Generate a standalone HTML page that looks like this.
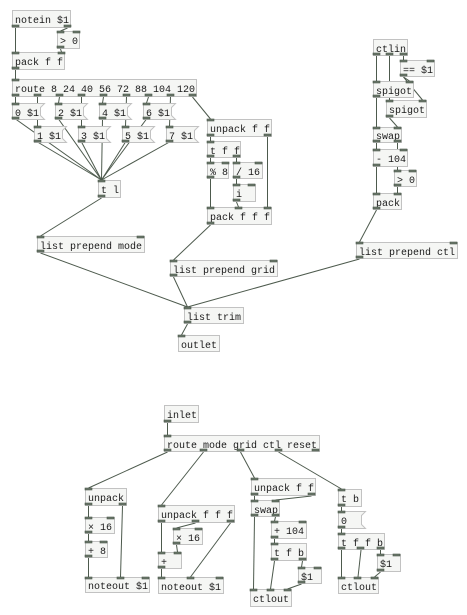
<!DOCTYPE html>
<html><head><meta charset="utf-8"><style>
html,body{margin:0;padding:0;background:#fff;width:467px;height:615px;overflow:hidden}
svg{display:block}
.b{fill:#f5f6f4;stroke:#c2c2c2;stroke-width:1}
.p{fill:#6b786b;stroke:#4a584a;stroke-width:.6}
.c{stroke:#4d5a4d;stroke-width:1;fill:none}
text{font-family:"Liberation Mono","DejaVu Sans Mono",monospace;font-size:10px;fill:#1a1a1a}
</style></head><body>
<svg width="467" height="615" viewBox="0 0 467 615" xmlns="http://www.w3.org/2000/svg">
<!-- cords -->
<g class="c">
<line x1="15.5" y1="28" x2="15.5" y2="52"/>
<line x1="67.5" y1="28" x2="60.5" y2="31"/>
<line x1="60.5" y1="49" x2="61.5" y2="52"/>
<line x1="15.5" y1="70" x2="15.5" y2="79"/>
<line x1="15.5" y1="97" x2="15.5" y2="103"/>
<line x1="37.5" y1="97" x2="37.5" y2="126"/>
<line x1="59.5" y1="97" x2="58.5" y2="103"/>
<line x1="81.5" y1="97" x2="81.5" y2="126"/>
<line x1="103.5" y1="97" x2="102.5" y2="103"/>
<line x1="126.5" y1="97" x2="125.5" y2="126"/>
<line x1="148.5" y1="97" x2="146.5" y2="103"/>
<line x1="170.5" y1="97" x2="169.5" y2="126"/>
<line x1="192.5" y1="97" x2="210.5" y2="119"/>
<line x1="15.5" y1="119" x2="101.5" y2="180"/>
<line x1="58.5" y1="119" x2="101.5" y2="180"/>
<line x1="102.5" y1="119" x2="101.5" y2="180"/>
<line x1="146.5" y1="119" x2="101.5" y2="180"/>
<line x1="37.5" y1="142" x2="101.5" y2="180"/>
<line x1="81.5" y1="142" x2="101.5" y2="180"/>
<line x1="125.5" y1="142" x2="101.5" y2="180"/>
<line x1="169.5" y1="142" x2="101.5" y2="180"/>
<line x1="101.5" y1="198" x2="40.5" y2="236"/>
<line x1="210.5" y1="137" x2="210.5" y2="141"/>
<line x1="267.5" y1="137" x2="267.5" y2="207"/>
<line x1="210.5" y1="158" x2="210.5" y2="162"/>
<line x1="236.5" y1="158" x2="236.5" y2="162"/>
<line x1="210.5" y1="179" x2="210.5" y2="207"/>
<line x1="236.5" y1="179" x2="236.5" y2="184"/>
<line x1="236.5" y1="202" x2="238.5" y2="207"/>
<line x1="210.5" y1="225" x2="173.5" y2="260"/>
<line x1="376.5" y1="56" x2="376.5" y2="81"/>
<line x1="389.5" y1="56" x2="389.5" y2="100"/>
<line x1="403.5" y1="56" x2="403.5" y2="60"/>
<line x1="403.5" y1="77" x2="409.5" y2="81"/>
<line x1="403.5" y1="77" x2="422.5" y2="100"/>
<line x1="376.5" y1="98" x2="376.5" y2="127"/>
<line x1="389.5" y1="118" x2="397.5" y2="127"/>
<line x1="376.5" y1="143" x2="376.5" y2="149"/>
<line x1="397.5" y1="143" x2="397.5" y2="170"/>
<line x1="376.5" y1="167" x2="376.5" y2="193"/>
<line x1="397.5" y1="187" x2="397.5" y2="193"/>
<line x1="376.5" y1="210" x2="359.5" y2="242"/>
<line x1="40.5" y1="253" x2="187.5" y2="307"/>
<line x1="173.5" y1="277" x2="187.5" y2="307"/>
<line x1="359.5" y1="259" x2="187.5" y2="307"/>
<line x1="187.5" y1="324" x2="181.5" y2="335"/>
<!-- bottom -->
<line x1="167.5" y1="423" x2="167.5" y2="435"/>
<line x1="167.5" y1="452" x2="88.5" y2="488"/>
<line x1="203.5" y1="452" x2="161.5" y2="505"/>
<line x1="240.5" y1="452" x2="254.5" y2="478"/>
<line x1="278.5" y1="452" x2="341.5" y2="489"/>
<line x1="88.5" y1="506" x2="88.5" y2="517"/>
<line x1="122.5" y1="506" x2="120.5" y2="577"/>
<line x1="88.5" y1="534" x2="88.5" y2="541"/>
<line x1="88.5" y1="558" x2="88.5" y2="577"/>
<line x1="161.5" y1="523" x2="161.5" y2="552"/>
<line x1="195.5" y1="523" x2="176.5" y2="528"/>
<line x1="230.5" y1="523" x2="190.5" y2="577"/>
<line x1="176.5" y1="545" x2="177.5" y2="552"/>
<line x1="161.5" y1="569" x2="161.5" y2="577"/>
<line x1="254.5" y1="496" x2="254.5" y2="500"/>
<line x1="311.5" y1="496" x2="275.5" y2="500"/>
<line x1="254.5" y1="517" x2="253.5" y2="589"/>
<line x1="275.5" y1="517" x2="274.5" y2="521"/>
<line x1="274.5" y1="539" x2="274.5" y2="543"/>
<line x1="274.5" y1="561" x2="270.5" y2="589"/>
<line x1="302.5" y1="561" x2="301.5" y2="567"/>
<line x1="301.5" y1="584" x2="287.5" y2="589"/>
<line x1="341.5" y1="507" x2="341.5" y2="511"/>
<line x1="341.5" y1="528" x2="341.5" y2="533"/>
<line x1="341.5" y1="550" x2="341.5" y2="577"/>
<line x1="361" y1="550" x2="358" y2="577"/>
<line x1="380.5" y1="550" x2="380.5" y2="554"/>
<line x1="380.5" y1="572" x2="374.5" y2="577"/>
</g>
<!-- object boxes -->
<g>
<rect class="b" x="12.5" y="10.5" width="58" height="17"/><text x="15" y="23">notein $1</text>
<rect class="b" x="57.5" y="31.5" width="22" height="17"/><text x="60" y="44">&gt; 0</text>
<rect class="b" x="12.5" y="52.5" width="52" height="17"/><text x="15" y="65">pack f f</text>
<rect class="b" x="12.5" y="79.5" width="184" height="17"/><text x="15" y="92">route 8 24 40 56 72 88 104 120</text>
<rect class="b" x="98.5" y="180.5" width="22" height="17"/><text x="101" y="193">t l</text>
<rect class="b" x="207.5" y="119.5" width="64" height="17"/><text x="210" y="132">unpack f f</text>
<rect class="b" x="207.5" y="141.5" width="33" height="16"/><text x="210" y="154">t f f</text>
<rect class="b" x="207.5" y="162.5" width="21" height="16"/><text x="210" y="175">% 8</text>
<rect class="b" x="233.5" y="162.5" width="29" height="16"/><text x="236" y="175">/ 16</text>
<rect class="b" x="233.5" y="184.5" width="22" height="17"/><text x="236" y="197">i</text>
<rect class="b" x="207.5" y="207.5" width="64" height="17"/><text x="210" y="220">pack f f f</text>
<rect class="b" x="37.5" y="236.5" width="107" height="16"/><text x="40" y="249">list prepend mode</text>
<rect class="b" x="170.5" y="260.5" width="107" height="16"/><text x="173" y="273">list prepend grid</text>
<rect class="b" x="356.5" y="242.5" width="101" height="16"/><text x="359" y="255">list prepend ctl</text>
<rect class="b" x="184.5" y="307.5" width="59" height="16"/><text x="187" y="320">list trim</text>
<rect class="b" x="178.5" y="335.5" width="41" height="16"/><text x="181" y="348">outlet</text>
<rect class="b" x="373.5" y="39.5" width="34" height="16"/><text x="376" y="52">ctlin</text>
<rect class="b" x="400.5" y="60.5" width="34" height="16"/><text x="403" y="73">== $1</text>
<rect class="b" x="373.5" y="81.5" width="40" height="16"/><text x="376" y="94">spigot</text>
<rect class="b" x="386.5" y="100.5" width="40" height="17"/><text x="389" y="113">spigot</text>
<rect class="b" x="373.5" y="127.5" width="28" height="15"/><text x="376" y="139">swap</text>
<rect class="b" x="373.5" y="149.5" width="34" height="17"/><text x="376" y="162">- 104</text>
<rect class="b" x="394.5" y="170.5" width="22" height="16"/><text x="397" y="183">&gt; 0</text>
<rect class="b" x="373.5" y="193.5" width="28" height="16"/><text x="376" y="206">pack</text>
<rect class="b" x="164.5" y="405.5" width="34" height="17"/><text x="167" y="418">inlet</text>
<rect class="b" x="164.5" y="435.5" width="155" height="16"/><text x="167" y="448">route mode grid ctl reset</text>
<rect class="b" x="85.5" y="488.5" width="41" height="17"/><text x="88" y="501">unpack</text>
<rect class="b" x="85.5" y="517.5" width="29" height="16"/><text x="88" y="530">× 16</text>
<rect class="b" x="85.5" y="541.5" width="22" height="16"/><text x="88" y="554">+ 8</text>
<rect class="b" x="85.5" y="577.5" width="64" height="15"/><text x="88" y="589">noteout $1</text>
<rect class="b" x="158.5" y="505.5" width="76" height="17"/><text x="161" y="518">unpack f f f</text>
<rect class="b" x="173.5" y="528.5" width="29" height="16"/><text x="176" y="541">× 16</text>
<rect class="b" x="158.5" y="552.5" width="23" height="16"/><text x="161" y="565">+</text>
<rect class="b" x="158.5" y="577.5" width="65" height="16"/><text x="161" y="590">noteout $1</text>
<rect class="b" x="251.5" y="478.5" width="64" height="17"/><text x="254" y="491">unpack f f</text>
<rect class="b" x="251.5" y="500.5" width="28" height="16"/><text x="254" y="513">swap</text>
<rect class="b" x="271.5" y="521.5" width="35" height="17"/><text x="274" y="534">+ 104</text>
<rect class="b" x="271.5" y="543.5" width="35" height="17"/><text x="274" y="556">t f b</text>
<rect class="b" x="298.5" y="567.5" width="23" height="16"/><text x="301" y="580">$1</text>
<rect class="b" x="250.5" y="589.5" width="41" height="17"/><text x="253" y="602">ctlout</text>
<rect class="b" x="338.5" y="489.5" width="23" height="17"/><text x="341" y="502">t b</text>
<rect class="b" x="338.5" y="533.5" width="46" height="16"/><text x="341" y="546">t f f b</text>
<rect class="b" x="377.5" y="554.5" width="23" height="17"/><text x="380" y="567">$1</text>
<rect class="b" x="338.5" y="577.5" width="40" height="16"/><text x="341" y="590">ctlout</text>
</g>
<!-- message boxes -->
<g>
<path class="b" d="M12.5 103.5H44.5L40.5 107.5V115.5L44.5 119.5H12.5Z"/><text x="15" y="116">0 $1</text>
<path class="b" d="M55.5 103.5H87.5L83.5 107.5V115.5L87.5 119.5H55.5Z"/><text x="58" y="116">2 $1</text>
<path class="b" d="M99.5 103.5H131.5L127.5 107.5V115.5L131.5 119.5H99.5Z"/><text x="102" y="116">4 $1</text>
<path class="b" d="M143.5 103.5H175.5L171.5 107.5V115.5L175.5 119.5H143.5Z"/><text x="146" y="116">6 $1</text>
<path class="b" d="M34.5 126.5H66.5L62.5 130.5V138.5L66.5 142.5H34.5Z"/><text x="37" y="139">1 $1</text>
<path class="b" d="M78.5 126.5H110.5L106.5 130.5V138.5L110.5 142.5H78.5Z"/><text x="81" y="139">3 $1</text>
<path class="b" d="M122.5 126.5H154.5L150.5 130.5V138.5L154.5 142.5H122.5Z"/><text x="125" y="139">5 $1</text>
<path class="b" d="M166.5 126.5H198.5L194.5 130.5V138.5L198.5 142.5H166.5Z"/><text x="169" y="139">7 $1</text>
<path class="b" d="M338.5 511.5H365.5L361.5 515.5V524.5L365.5 528.5H338.5Z"/><text x="341" y="524">0</text>
</g>
<!-- ports -->
<g class="p">
<rect x="12" y="25" width="7" height="2"/><rect x="64" y="25" width="7" height="2"/>
<rect x="57" y="31" width="7" height="2"/><rect x="73" y="31" width="7" height="2"/><rect x="57" y="46" width="7" height="2"/>
<rect x="12" y="52" width="7" height="2"/><rect x="58" y="52" width="7" height="2"/><rect x="12" y="67" width="7" height="2"/>
<rect x="12" y="79" width="7" height="2"/>
<rect x="12" y="94" width="7" height="2"/><rect x="34" y="94" width="7" height="2"/><rect x="56" y="94" width="7" height="2"/><rect x="78" y="94" width="7" height="2"/><rect x="100" y="94" width="7" height="2"/><rect x="123" y="94" width="7" height="2"/><rect x="145" y="94" width="7" height="2"/><rect x="167" y="94" width="7" height="2"/><rect x="189" y="94" width="7" height="2"/>
<rect x="12" y="103" width="7" height="2"/><rect x="12" y="117" width="7" height="2"/>
<rect x="55" y="103" width="7" height="2"/><rect x="55" y="117" width="7" height="2"/>
<rect x="99" y="103" width="7" height="2"/><rect x="99" y="117" width="7" height="2"/>
<rect x="143" y="103" width="7" height="2"/><rect x="143" y="117" width="7" height="2"/>
<rect x="34" y="126" width="7" height="2"/><rect x="34" y="140" width="7" height="2"/>
<rect x="78" y="126" width="7" height="2"/><rect x="78" y="140" width="7" height="2"/>
<rect x="122" y="126" width="7" height="2"/><rect x="122" y="140" width="7" height="2"/>
<rect x="166" y="126" width="7" height="2"/><rect x="166" y="140" width="7" height="2"/>
<rect x="98" y="180" width="7" height="2"/><rect x="98" y="195" width="7" height="2"/>
<rect x="207" y="119" width="7" height="2"/><rect x="207" y="134" width="7" height="2"/><rect x="264" y="134" width="7" height="2"/>
<rect x="207" y="141" width="7" height="2"/><rect x="207" y="155" width="7" height="2"/><rect x="233" y="155" width="7" height="2"/>
<rect x="207" y="162" width="7" height="2"/><rect x="222" y="162" width="7" height="2"/><rect x="207" y="176" width="7" height="2"/>
<rect x="233" y="162" width="7" height="2"/><rect x="255" y="162" width="7" height="2"/><rect x="233" y="176" width="7" height="2"/>
<rect x="233" y="184" width="7" height="2"/><rect x="248" y="184" width="7" height="2"/><rect x="233" y="199" width="7" height="2"/>
<rect x="207" y="207" width="7" height="2"/><rect x="235" y="207" width="7" height="2"/><rect x="264" y="207" width="7" height="2"/><rect x="207" y="222" width="7" height="2"/>
<rect x="37" y="236" width="7" height="2"/><rect x="137" y="236" width="7" height="2"/><rect x="37" y="250" width="7" height="2"/>
<rect x="170" y="260" width="7" height="2"/><rect x="270" y="260" width="7" height="2"/><rect x="170" y="274" width="7" height="2"/>
<rect x="356" y="242" width="7" height="2"/><rect x="450" y="242" width="7" height="2"/><rect x="356" y="256" width="7" height="2"/>
<rect x="184" y="307" width="7" height="2"/><rect x="184" y="321" width="7" height="2"/>
<rect x="178" y="335" width="7" height="2"/>
<rect x="373" y="53" width="7" height="2"/><rect x="386" y="53" width="7" height="2"/><rect x="400" y="53" width="7" height="2"/>
<rect x="400" y="60" width="7" height="2"/><rect x="427" y="60" width="7" height="2"/><rect x="400" y="74" width="7" height="2"/>
<rect x="373" y="81" width="7" height="2"/><rect x="406" y="81" width="7" height="2"/><rect x="373" y="95" width="7" height="2"/>
<rect x="386" y="100" width="7" height="2"/><rect x="419" y="100" width="7" height="2"/><rect x="386" y="115" width="7" height="2"/>
<rect x="373" y="127" width="7" height="2"/><rect x="394" y="127" width="7" height="2"/><rect x="373" y="140" width="7" height="2"/><rect x="394" y="140" width="7" height="2"/>
<rect x="373" y="149" width="7" height="2"/><rect x="400" y="149" width="7" height="2"/><rect x="373" y="164" width="7" height="2"/>
<rect x="394" y="170" width="7" height="2"/><rect x="409" y="170" width="7" height="2"/><rect x="394" y="184" width="7" height="2"/>
<rect x="373" y="193" width="7" height="2"/><rect x="394" y="193" width="7" height="2"/><rect x="373" y="207" width="7" height="2"/>
<rect x="164" y="420" width="7" height="2"/>
<rect x="164" y="435" width="7" height="2"/>
<rect x="164" y="449" width="7" height="2"/><rect x="200" y="449" width="7" height="2"/><rect x="237" y="449" width="7" height="2"/><rect x="275" y="449" width="7" height="2"/><rect x="312" y="449" width="7" height="2"/>
<rect x="85" y="488" width="7" height="2"/><rect x="85" y="503" width="7" height="2"/><rect x="119" y="503" width="7" height="2"/>
<rect x="85" y="517" width="7" height="2"/><rect x="107" y="517" width="7" height="2"/><rect x="85" y="531" width="7" height="2"/>
<rect x="85" y="541" width="7" height="2"/><rect x="100" y="541" width="7" height="2"/><rect x="85" y="555" width="7" height="2"/>
<rect x="85" y="577" width="7" height="2"/><rect x="117" y="577" width="7" height="2"/><rect x="142" y="577" width="7" height="2"/>
<rect x="158" y="505" width="7" height="2"/><rect x="158" y="520" width="7" height="2"/><rect x="192" y="520" width="7" height="2"/><rect x="227" y="520" width="7" height="2"/>
<rect x="173" y="528" width="7" height="2"/><rect x="195" y="528" width="7" height="2"/><rect x="173" y="542" width="7" height="2"/>
<rect x="158" y="552" width="7" height="2"/><rect x="174" y="552" width="7" height="2"/><rect x="158" y="566" width="7" height="2"/>
<rect x="158" y="577" width="7" height="2"/><rect x="187" y="577" width="7" height="2"/><rect x="216" y="577" width="7" height="2"/>
<rect x="251" y="478" width="7" height="2"/><rect x="251" y="493" width="7" height="2"/><rect x="308" y="493" width="7" height="2"/>
<rect x="251" y="500" width="7" height="2"/><rect x="272" y="500" width="7" height="2"/><rect x="251" y="514" width="7" height="2"/><rect x="272" y="514" width="7" height="2"/>
<rect x="271" y="521" width="7" height="2"/><rect x="299" y="521" width="7" height="2"/><rect x="271" y="536" width="7" height="2"/>
<rect x="271" y="543" width="7" height="2"/><rect x="271" y="558" width="7" height="2"/><rect x="299" y="558" width="7" height="2"/>
<rect x="298" y="567" width="7" height="2"/><rect x="314" y="567" width="7" height="2"/><rect x="298" y="581" width="7" height="2"/>
<rect x="250" y="589" width="7" height="2"/><rect x="267" y="589" width="7" height="2"/><rect x="284" y="589" width="7" height="2"/>
<rect x="338" y="489" width="7" height="2"/><rect x="338" y="504" width="7" height="2"/>
<rect x="338" y="511" width="7" height="2"/><rect x="338" y="526" width="7" height="2"/>
<rect x="338" y="533" width="7" height="2"/><rect x="338" y="547" width="7" height="2"/><rect x="357" y="547" width="7" height="2"/><rect x="377" y="547" width="7" height="2"/>
<rect x="377" y="554" width="7" height="2"/><rect x="393" y="554" width="7" height="2"/><rect x="377" y="569" width="7" height="2"/>
<rect x="338" y="577" width="7" height="2"/><rect x="354" y="577" width="7" height="2"/><rect x="371" y="577" width="7" height="2"/>
</g>
</svg>
</body></html>
